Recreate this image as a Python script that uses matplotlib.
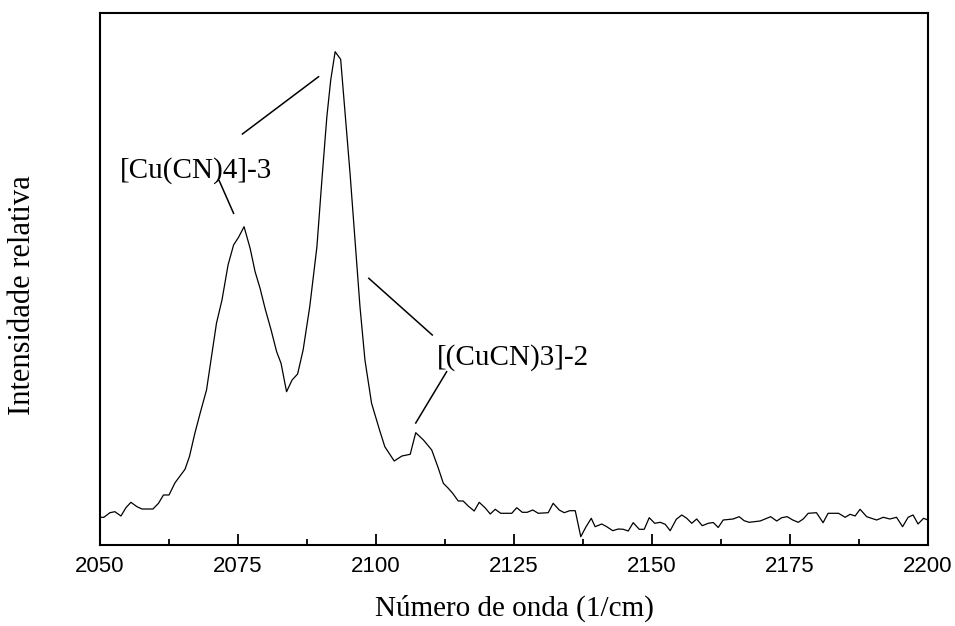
import matplotlib.pyplot as plt
from matplotlib.ticker import MultipleLocator

# Spectrum (wavenumber in 1/cm, relative intensity)
wavenumber = [2050.0, 2050.7, 2051.8, 2052.7, 2053.8, 2054.7, 2055.6, 2056.7, 2057.6, 2059.6,
              2060.6, 2061.5, 2062.5, 2063.6, 2065.4, 2066.2, 2067.2, 2068.2, 2069.3, 2070.2,
              2071.1, 2072.1, 2073.2, 2074.2, 2075.1, 2076.1, 2077.2, 2078.1, 2079.0, 2079.9,
              2081.0, 2082.0, 2082.8, 2083.8, 2084.8, 2085.8, 2086.8, 2088.0, 2089.3, 2090.2,
              2091.1, 2091.8, 2092.6, 2093.6, 2094.4, 2095.3, 2096.2, 2097.1, 2098.0, 2099.2,
              2100.7, 2101.6, 2103.3, 2104.7, 2106.2, 2107.2, 2108.6, 2110.1, 2111.3, 2112.2,
              2113.1, 2113.9, 2114.9, 2115.8, 2116.7, 2117.8, 2118.7, 2119.8, 2120.7, 2121.6,
              2122.6, 2124.6, 2125.5, 2126.5, 2127.4, 2128.4, 2129.4, 2131.2, 2132.1, 2133.2,
              2134.1, 2135.1, 2136.1, 2137.1, 2138.0, 2139.0, 2139.7, 2140.9, 2141.8, 2142.9,
              2143.9, 2144.8, 2145.7, 2146.6, 2147.7, 2148.6, 2149.5, 2150.5, 2151.5, 2152.4,
              2153.3, 2154.4, 2155.4, 2156.3, 2157.2, 2158.1, 2159.1, 2160.2, 2161.1, 2162.0,
              2162.9, 2164.7, 2165.8, 2166.7, 2167.6, 2169.6, 2170.5, 2171.5, 2172.6, 2173.5,
              2174.5, 2175.5, 2176.5, 2177.4, 2178.3, 2179.8, 2181.0, 2181.9, 2183.8, 2185.0,
              2185.9, 2186.8, 2187.7, 2188.9, 2190.7, 2191.9, 2193.1, 2194.3, 2195.4, 2196.4,
              2197.3, 2198.2, 2199.2, 2200.0]
intensity = [27.7, 27.7, 32.3, 33.3, 29.0, 37.3, 42.7, 38.3, 36.0, 36.0,
             41.7, 50.0, 50.0, 62.3, 75.7, 88.3, 112.0, 133.0, 155.0, 188.3,
             221.7, 245.0, 280.0, 300.0, 307.7, 318.3, 296.7, 273.3, 256.7, 236.7,
             215.0, 193.3, 181.7, 153.3, 165.0, 171.0, 195.0, 238.3, 298.3, 365.0,
             428.3, 465.0, 493.3, 485.7, 431.7, 371.7, 305.0, 238.3, 185.0, 141.7,
             114.0, 98.3, 84.0, 89.0, 90.7, 112.3, 105.0, 95.0, 76.7, 61.7,
             56.7, 51.7, 44.0, 44.0, 39.0, 34.0, 42.7, 37.0, 31.0, 35.7,
             31.7, 31.7, 37.3, 32.7, 32.7, 35.0, 31.7, 32.3, 41.7, 35.0,
             32.3, 34.3, 34.3, 8.3, 17.7, 26.7, 18.3, 21.0, 18.3, 14.3,
             16.0, 15.7, 14.0, 22.3, 15.7, 15.7, 27.3, 21.7, 22.7, 20.7,
             14.3, 25.7, 30.0, 26.7, 21.7, 26.0, 19.3, 21.7, 22.5, 17.5,
             25.0, 26.0, 28.3, 24.3, 22.7, 24.0, 26.0, 28.3, 24.0, 27.3,
             28.3, 25.0, 22.7, 26.0, 31.7, 32.3, 22.3, 31.7, 31.7, 27.7,
             30.7, 29.0, 35.7, 28.3, 25.0, 27.7, 26.0, 27.7, 18.3, 27.7,
             30.0, 21.0, 26.7, 25.0]

x_ticks = [2050, 2075, 2100, 2125, 2150, 2175, 2200]
labels = ['[Cu(CN)4]-3', '[(CuCN)3]-2']

serif = ['Liberation Serif', 'DejaVu Serif']

fig = plt.figure(figsize=(9.55, 6.26), dpi=100)
ax = fig.add_axes([0.1047, 0.1294, 0.867, 0.8498])

ax.plot(wavenumber, intensity, color='black', linewidth=0.9)

# leader lines for the labels
ax.plot([2075.8, 2089.6], [411, 468.3], color='black', linewidth=1.1)
ax.plot([2071.6, 2074.2], [364.3, 331.7], color='black', linewidth=1.1)
ax.plot([2098.7, 2110.2], [266.7, 210], color='black', linewidth=1.1)
ax.plot([2112.8, 2107.2], [173.3, 122], color='black', linewidth=1.1)

ax.text(2053.6, 374, labels[0], fontsize=21, family=serif, va='center', ha='left')
ax.text(2111.0, 187, labels[1], fontsize=21, family=serif, va='center', ha='left')

ax.set_xlim(2050, 2200)
ax.set_ylim(0, 532)
ax.set_xticks(x_ticks)
ax.xaxis.set_minor_locator(MultipleLocator(12.5))
ax.set_yticks([])
ax.tick_params(axis='x', which='major', direction='in', length=8, width=1.3,
               labelsize=16, pad=8, top=False)
ax.tick_params(axis='x', which='minor', direction='in', length=4, width=1.3, top=False)
for lbl in ax.get_xticklabels():
    lbl.set_family(['Liberation Sans', 'DejaVu Sans'])
for sp in ax.spines.values():
    sp.set_linewidth(1.5)

ax.set_xlabel('Número de onda (1/cm)', fontsize=21, family=serif, labelpad=13)
ax.set_ylabel('Intensidade relativa', fontsize=22, family=serif)
ax.yaxis.set_label_coords(-0.076, 0.47)

plt.savefig('out.png', dpi=100)
